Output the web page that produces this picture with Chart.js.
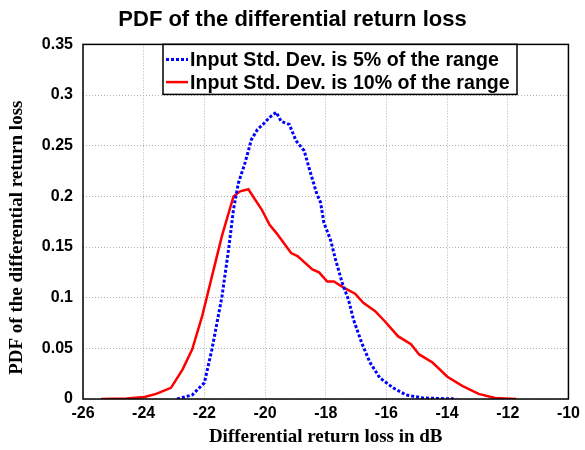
<!DOCTYPE html>
<html>
<head>
<meta charset="utf-8">
<script src="https://cdn.jsdelivr.net/npm/chart.js@4/dist/chart.umd.min.js"></script>
<style>
  html, body { margin: 0; padding: 0; background: #fff; }
  #wrap { width: 585px; height: 450px; }
</style>
</head>
<body>
<div id="wrap"><canvas id="pdfChart" width="585" height="450"></canvas></div>
<script>
// differential return loss (dB) and PDF values, 5% input std. dev.
const x5 = [-22.9, -22.4, -22.0, -21.75, -21.42, -21.2, -21.04, -20.88, -20.66, -20.45,
  -20.25, -20.07, -19.85, -19.63, -19.47, -19.2, -18.98, -18.71, -18.49, -18.3,
  -18.17, -18.06, -17.84, -17.68, -17.46, -17.25, -17.08, -16.81, -16.54, -16.22,
  -15.78, -15.35, -14.8, -13.7];
const pdf5 = [0, 0.004, 0.016, 0.049, 0.101, 0.148, 0.187, 0.213, 0.233, 0.256,
  0.266, 0.271, 0.278, 0.283, 0.274, 0.271, 0.255, 0.245, 0.222, 0.203,
  0.194, 0.174, 0.157, 0.138, 0.115, 0.098, 0.078, 0.055, 0.036, 0.021,
  0.011, 0.004, 0.001, 0];

// same for 10% input std. dev.
const x10 = [-25.4, -24.56, -23.97, -23.59, -23.1, -22.72, -22.4, -22.07, -21.75, -21.42,
  -21.04, -20.82, -20.55, -20.11, -19.85, -19.63, -19.14, -18.93, -18.44, -18.22,
  -17.95, -17.73, -17.41, -17.03, -16.76, -16.38, -16.06, -15.62, -15.19, -14.92,
  -14.48, -13.99, -13.5, -12.96, -12.42, -11.72];
const pdf10 = [0, 0.0005, 0.002, 0.005, 0.011, 0.029, 0.049, 0.082, 0.121, 0.161,
  0.2, 0.205, 0.207, 0.187, 0.172, 0.164, 0.144, 0.141, 0.128, 0.125,
  0.116, 0.116, 0.110, 0.104, 0.095, 0.087, 0.077, 0.062, 0.054, 0.044,
  0.036, 0.022, 0.013, 0.005, 0.001, 0];

const seriesNames = ['Input Std. Dev. is 5% of the range', 'Input Std. Dev. is 10% of the range'];
const xTicks = [-26, -24, -22, -20, -18, -16, -14, -12, -10];
const yTicks = [0, 0.05, 0.1, 0.15, 0.2, 0.25, 0.3, 0.35];
const yTitle = 'PDF of the differential return loss';

const sans = '"Liberation Sans", Arial, sans-serif';
const serif = '"Liberation Serif", "Times New Roman", serif';

const toPoints = (xs, ys) => xs.map((x, i) => ({ x: x, y: ys[i] }));

// black box round the plot area, plus the rotated y label
const boxPlugin = {
  id: 'plotBox',
  afterDatasetsDraw(chart) {
    const a = chart.chartArea;
    const ctx = chart.ctx;
    ctx.save();
    ctx.strokeStyle = '#000';
    ctx.lineWidth = 1.5;
    ctx.strokeRect(a.left, a.top, a.right - a.left, a.bottom - a.top);
    ctx.translate(17, (a.top + a.bottom) / 2 + 16);
    ctx.rotate(-Math.PI / 2);
    ctx.font = 'bold 19px ' + serif;
    ctx.fillStyle = '#000';
    ctx.textAlign = 'center';
    ctx.textBaseline = 'middle';
    ctx.fillText(yTitle, 0, 0);
    ctx.restore();
  }
};

// legend drawn inside the axes, top centre
const legendPlugin = {
  id: 'insideLegend',
  afterDraw(chart) {
    const a = chart.chartArea;
    const ctx = chart.ctx;
    const bx = a.left + 80, by = a.top, bw = 354, bh = 50;
    ctx.save();
    ctx.fillStyle = '#fff';
    ctx.fillRect(bx, by, bw, bh);
    ctx.strokeStyle = '#000';
    ctx.lineWidth = 1.5;
    ctx.strokeRect(bx, by, bw, bh);
    ctx.font = 'bold 19.6px ' + sans;
    ctx.textBaseline = 'middle';
    chart.data.datasets.forEach((ds, i) => {
      const y = by + 15 + i * 22.7;
      ctx.beginPath();
      ctx.setLineDash(ds.borderDash || []);
      ctx.strokeStyle = ds.borderColor;
      ctx.lineWidth = ds.borderWidth;
      ctx.moveTo(bx + 3, y);
      ctx.lineTo(bx + 25, y);
      ctx.stroke();
      ctx.setLineDash([]);
      ctx.fillStyle = '#000';
      ctx.fillText(ds.label, bx + 27, y + 1);
    });
    ctx.restore();
  }
};

new Chart(document.getElementById('pdfChart').getContext('2d'), {
  type: 'line',
  data: {
    datasets: [
      {
        label: seriesNames[0],
        data: toPoints(x5, pdf5),
        borderColor: '#0000ff',
        borderWidth: 3,
        borderDash: [3, 2],
        pointRadius: 0,
        fill: false,
        tension: 0
      },
      {
        label: seriesNames[1],
        data: toPoints(x10, pdf10),
        borderColor: '#ff0000',
        borderWidth: 2.5,
        pointRadius: 0,
        fill: false,
        tension: 0
      }
    ]
  },
  options: {
    responsive: false,
    animation: false,
    layout: { padding: { left: 0, right: 0, top: 0, bottom: 0 } },
    plugins: {
      legend: { display: false },
      tooltip: { enabled: false },
      title: {
        display: true,
        text: 'PDF of the differential return loss',
        color: '#000',
        font: { family: sans, size: 22, weight: 'bold' },
        padding: { top: 7, bottom: 11 }
      }
    },
    scales: {
      x: {
        type: 'linear',
        min: -26,
        max: -10,
        afterBuildTicks: s => { s.ticks = xTicks.map(v => ({ value: v })); },
        afterFit: s => { s.height = 51; },
        grid: { color: '#b0b0b0', drawTicks: false },
        border: { display: false, dash: [1, 2] },
        ticks: {
          color: '#000',
          padding: 5,
          maxRotation: 0,
          font: { family: sans, size: 16, weight: 'bold' }
        },
        title: {
          display: true,
          text: 'Differential return loss in dB',
          color: '#000',
          font: { family: serif, size: 19, weight: 'bold' },
          padding: { top: 0, bottom: 2 }
        }
      },
      y: {
        min: 0,
        max: 0.35,
        afterBuildTicks: s => { s.ticks = yTicks.map(v => ({ value: v })); },
        afterFit: s => { s.width = 83; },
        grid: { color: '#b0b0b0', drawTicks: false },
        border: { display: false, dash: [1, 2] },
        ticks: {
          color: '#000',
          padding: 10,
          font: { family: sans, size: 16, weight: 'bold' },
          callback: v => String(+v.toFixed(2))
        }
      }
    }
  },
  plugins: [boxPlugin, legendPlugin]
});
</script>
</body>
</html>
